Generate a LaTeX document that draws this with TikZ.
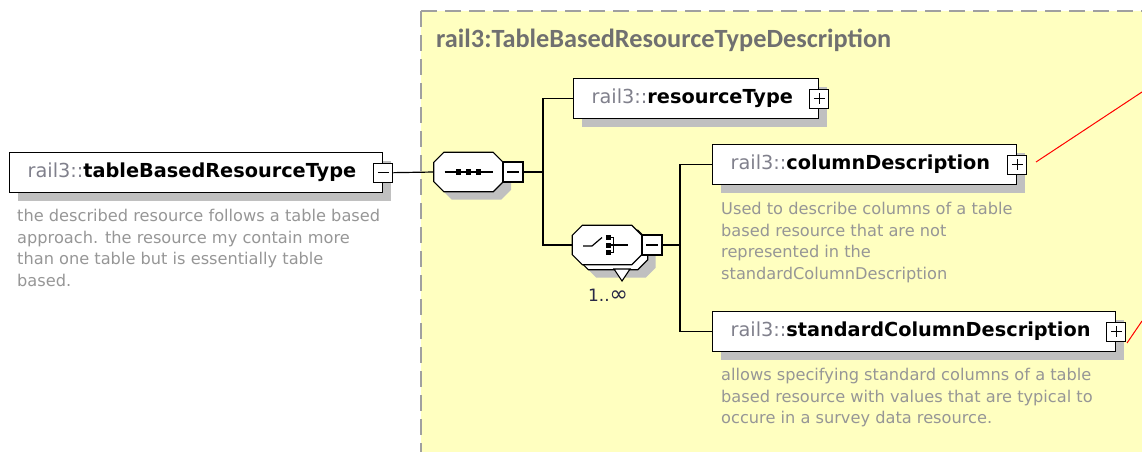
\documentclass[tikz,border=0pt]{standalone}
\usepackage{fontspec}
\setmainfont{DejaVu Sans}
\newfontfamily\titlefont{Carlito}
\usetikzlibrary{shadows,calc}
\definecolor{bgyellow}{RGB}{255,255,192}
\definecolor{bordergrey}{RGB}{160,160,160}
\definecolor{shadowgrey}{RGB}{192,192,192}
\definecolor{prefixgrey}{RGB}{128,128,140}
\definecolor{descgrey}{RGB}{150,150,150}
\definecolor{titlegrey}{RGB}{112,112,112}
\definecolor{occgrey}{RGB}{40,40,70}
\definecolor{refred}{RGB}{255,0,0}
% octagon outline around a node #1 with chamfer #2
\newcommand\octpath[2]{([xshift=#2]#1.north west) -- ([xshift=-#2]#1.north east) -- ([yshift=-#2]#1.north east) -- ([yshift=#2]#1.south east) -- ([xshift=-#2]#1.south east) -- ([xshift=#2]#1.south west) -- ([yshift=#2]#1.south west) -- ([yshift=-#2]#1.north west) -- cycle}
\newcommand\drawoct[1]{%
  \begin{scope}[transform canvas={xshift=8pt,yshift=-8pt}]\fill[shadowgrey] \octpath{#1}{10pt};\end{scope}%
  \filldraw[fill=white, line width=1.2pt] \octpath{#1}{10pt};}
\begin{document}
\begin{tikzpicture}[x=1pt,y=-1pt,
  shadowed/.style={drop shadow={shadow xshift=8pt, shadow yshift=-8pt, fill=shadowgrey, opacity=1}},
  elem/.style={draw, line width=1.3pt, fill=white, anchor=north west, inner xsep=18pt, inner ysep=0pt,
    minimum height=40pt, align=left, font=\fontsize{19.3}{23}\selectfont, shadowed},
  btn/.style={draw, line width=1.2pt, fill=white, minimum size=19pt, inner sep=0pt},
  minusbtn/.style={btn, path picture={\draw[line width=1.2pt] ([xshift=4pt]path picture bounding box.west) -- ([xshift=-4pt]path picture bounding box.east);}},
  plusbtn/.style={btn, path picture={\draw[line width=1.2pt] ([xshift=4pt]path picture bounding box.west) -- ([xshift=-4pt]path picture bounding box.east);
      \draw[line width=1.2pt] ([yshift=-4pt]path picture bounding box.north) -- ([yshift=4pt]path picture bounding box.south);}},
  compbox/.style={rectangle, minimum width=69pt, minimum height=39pt, inner sep=0pt},
  desc/.style={anchor=north west, inner sep=0pt, align=left, text=descgrey, font=\fontsize{16.2}{21.6}\selectfont},
  conn/.style={line width=1.2pt}]
\useasboundingbox (0,0) rectangle (1142,451);
% background group box
\fill[bgyellow] (421,11) rectangle (1160,470);
\draw[bordergrey, line width=2pt, dash pattern=on 16pt off 8pt] (421,11) -- (1160,11);
\draw[bordergrey, line width=2pt, dash pattern=on 16pt off 8pt] (421,11) -- (421,470);
\node[anchor=base west, inner sep=0pt, text=titlegrey, font=\titlefont\bfseries\fontsize{26.3}{30}\selectfont] (title) at (436,47) {rail3:TableBasedResourceTypeDescription};

% main element
\node[elem, text width=337pt] (main) at (9,152) {{\color{prefixgrey}rail3::}\textbf{tableBasedResourceType}};
\node[minusbtn] (mainbtn) at (main.east) {};
\node[desc] (maindesc) at (17,209) {the described resource follows a table based\\approach. the resource my contain more\\than one table but is essentially table\\based.};

% sequence compositor
\node[compbox] (seq) at (468.5,172) {};
\drawoct{seq}
\begin{scope}[shift={(seq.center)}]
  \draw[line width=1.2pt] (-24,0) -- (24,0);
  \foreach \sx in {-10,0,10} \fill (\sx-2.6,-2.6) rectangle (\sx+2.6,2.6);
\end{scope}
\node[minusbtn, minimum size=20pt] (seqbtn) at (513,172) {};

% choice compositor
\node[compbox] (choiceback) at (613,250) {};
\drawoct{choiceback}
\draw[line width=1.1pt, fill=white] (614,269) -- (630,269) -- (622,281) -- cycle;
\node[compbox] (choice) at (607,245) {};
\filldraw[fill=white, line width=1.2pt] \octpath{choice}{10pt};
\begin{scope}[shift={(choice.center)}]
  \draw[line width=1.2pt] (-24,1) -- (-15,1) -- (-5,-7.5);
  \foreach \sy in {-7.5,0,7.5} \fill (-1.5,\sy-2.5) rectangle (3.5,\sy+2.5);
  \draw[line width=1.2pt] (3.5,-7.5) -- (6.5,-7.5) -- (6.5,7.5) -- (3.5,7.5);
  \draw[line width=1.2pt] (3.5,0) -- (21,0);
\end{scope}
\node[minusbtn, minimum size=20pt] (choicebtn) at (652,245) {};
\node[inner sep=0pt, text=occgrey, font=\fontsize{17}{20}\selectfont] (occ) at (608,295) {1..{\fontsize{22}{20}\selectfont ∞}};

% child elements
\node[elem, text width=209pt] (resType) at (573,78) {{\color{prefixgrey}rail3::}\textbf{resourceType}};
\node[plusbtn] (resTypebtn) at (resType.east) {};

\node[elem, text width=268pt] (colDesc) at (712,144) {{\color{prefixgrey}rail3::}\textbf{columnDescription}};
\node[plusbtn] (colDescbtn) at (colDesc.east) {};
\node[desc] (colDescdesc) at (721,202) {Used to describe columns of a table\\based resource that are not\\represented in the\\standardColumnDescription};

\node[elem, text width=367pt] (stdCol) at (712,311) {{\color{prefixgrey}rail3::}\textbf{standardColumnDescription}};
\node[plusbtn] (stdColbtn) at (stdCol.east) {};
\node[desc] (stdColdesc) at (721,368) {allows specifying standard columns of a table\\based resource with values that are typical to\\occure in a survey data resource.};

% connectors
\coordinate (j1) at (543,172);
\coordinate (j2) at (680,245);
\draw[conn] (mainbtn.east) -- (seq.west);
\draw[conn] (seqbtn.east) -- (j1);
\draw[conn] (resType.west) -| (j1) |- (choice.west);
\draw[conn] (choicebtn.east) -- (j2);
\draw[conn] (colDesc.west) -| (j2) |- (stdCol.west);

% red reference lines
\coordinate (r1a) at (1036,162);
\coordinate (r1b) at (1142,92);
\coordinate (r2a) at (1127,343);
\coordinate (r2b) at (1142,321);
\draw[refred, line width=1pt] (r1a) -- (r1b);
\draw[refred, line width=1pt] (r2a) -- (r2b);
\end{tikzpicture}
\end{document}
